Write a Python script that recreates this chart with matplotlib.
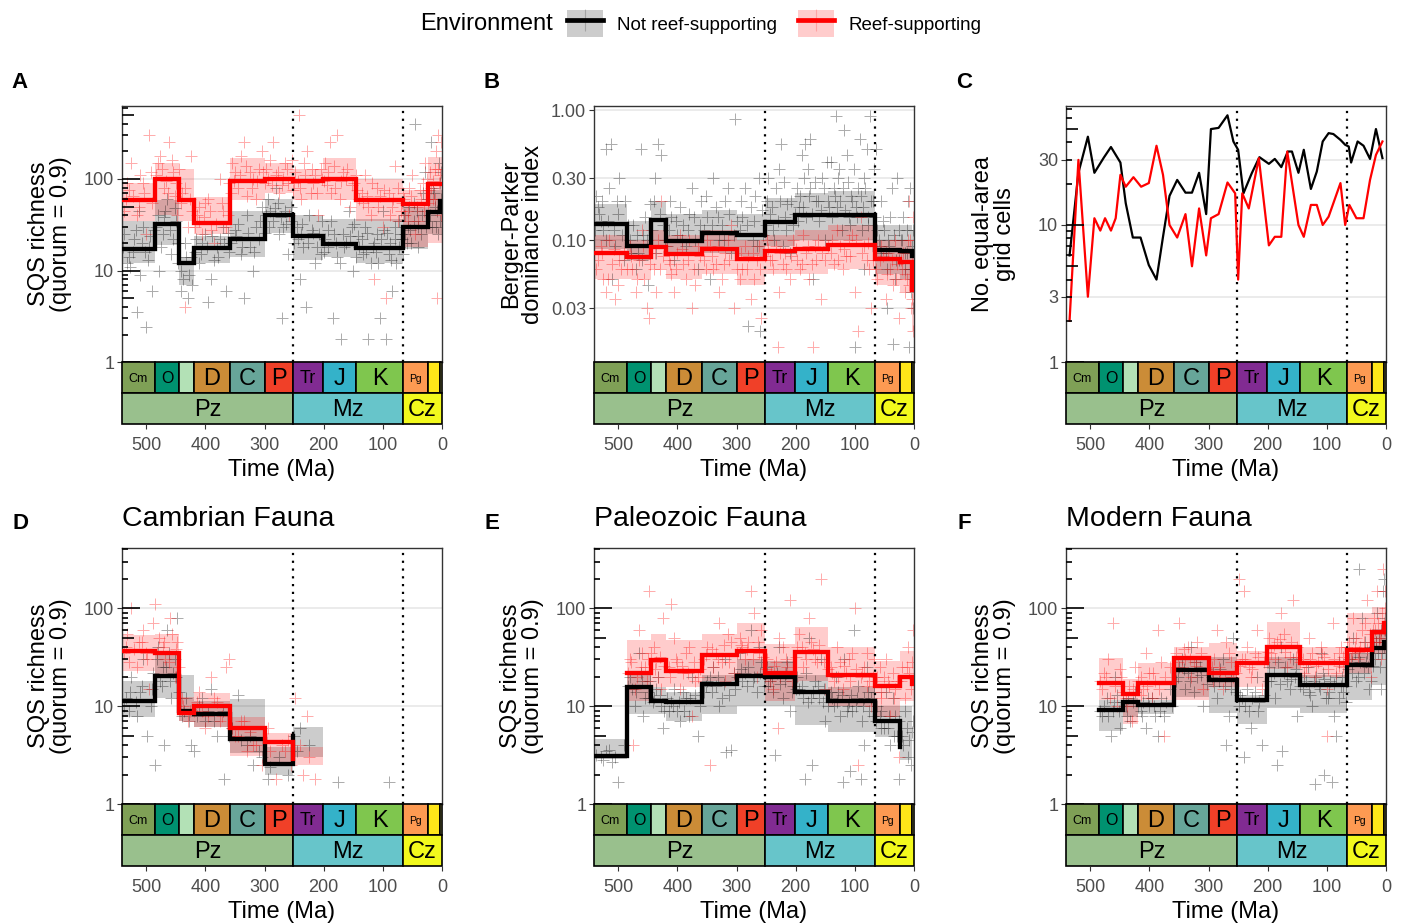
import numpy as np
import matplotlib.pyplot as plt
from matplotlib.patches import Patch, Rectangle
from matplotlib.lines import Line2D
from matplotlib.legend_handler import HandlerTuple
from matplotlib.ticker import FixedLocator, FixedFormatter, NullLocator

plt.rcParams["font.family"] = ["Liberation Sans", "DejaVu Sans"]

nan = np.nan

# Geological time scale (Ma)
period_labels = ["Cm", "O", "", "D", "C", "P", "Tr", "J", "K", "Pg", "", ""]
period_base = [541.0, 485.4, 443.8, 419.2, 358.9, 298.9, 251.902, 201.3, 145.0, 66.0, 23.03, 2.58]
period_top = [485.4, 443.8, 419.2, 358.9, 298.9, 251.902, 201.3, 145.0, 66.0, 23.03, 2.58, 0.0]
period_colors = ["#7FA056", "#009270", "#B3E1B6", "#CB8C37", "#67A599", "#F04028",
                 "#812B92", "#34B2C9", "#7FC64E", "#FD9A52", "#FFE619", "#F9F97F"]
period_fontsize = [9, 11.5, 0, 17, 17, 17, 13, 17, 17, 7.5, 0, 0]

era_labels = ["Pz", "Mz", "Cz"]
era_base = [541.0, 251.902, 66.0]
era_top = [251.902, 66.0, 0.0]
era_colors = ["#99C08D", "#67C5CA", "#F2F91D"]

mass_extinctions = [251.902, 66.0]

# ---------------- A: SQS richness, all taxa (one value per period bin)
A_black = [17, 32, 12, 17.7, 22, 40, 24, 19.5, 17.7, 30, 44, 58]
A_black_lo = [12, 19, 7, 12, 14, 26, 13, 14, 12, 17, 25, 25]
A_black_hi = [35, 59, 14, 24, 45, 60, 40, 37, 37, 50, 75, 75]
A_red = [59, 100, 59, 33, 96, 100, 94, 100, 59, 53, 88, 88]
A_red_lo = [35, 40, 35, 25, 59, 70, 59, 59, 35, 18, 20, 20]
A_red_hi = [90, 150, 130, 64, 170, 150, 130, 170, 100, 75, 175, 175]

A_black_pts = [(530, 14), (520, 22), (510, 9), (505, 30), (495, 18), (490, 6), (515, 3.5), (500, 2.4),
               (480, 40), (472, 25), (465, 60), (458, 15), (450, 35), (478, 10), (438, 8), (430, 5),
               (425, 14), (435, 20), (410, 12), (400, 25), (390, 8), (380, 18), (370, 30), (395, 4.5),
               (365, 6), (350, 28), (340, 15), (330, 40), (320, 10), (310, 22), (305, 50), (335, 5),
               (295, 60), (285, 35), (275, 25), (265, 45), (260, 15), (280, 80), (270, 3), (245, 30),
               (235, 18), (225, 40), (215, 12), (208, 25), (230, 4), (240, 8), (198, 22), (188, 35),
               (178, 14), (168, 25), (158, 45), (150, 10), (185, 3), (170, 1.8), (140, 18), (130, 30),
               (120, 12), (110, 25), (100, 45), (90, 15), (80, 22), (72, 35), (125, 1.8), (105, 3),
               (95, 1.8), (85, 6), (62, 25), (55, 50), (48, 35), (40, 18), (32, 70), (28, 120),
               (45, 400), (20, 40), (15, 80), (10, 30), (5, 150), (2, 60), (18, 250),
               (537, 25), (527, 11), (512, 45), (502, 16), (487, 28), (475, 18), (468, 45), (455, 22),
               (446, 12), (441, 6), (428, 9), (418, 16), (405, 20), (385, 13), (375, 22), (360, 16),
               (345, 32), (325, 18), (315, 30), (300, 26), (290, 45), (278, 55), (268, 30), (255, 35),
               (250, 20), (238, 25), (220, 28), (205, 15), (193, 18), (182, 25), (172, 12), (162, 20),
               (153, 30), (145, 14), (135, 22), (128, 16), (115, 20), (108, 12), (98, 28), (88, 20),
               (78, 12), (70, 25), (66, 15), (58, 30), (52, 20), (42, 45), (36, 25), (25, 60),
               (22, 35), (12, 50), (7, 25), (3, 90),
               (539, 18), (533, 12), (523, 16), (518, 28), (508, 20), (497, 13), (493, 24), (483, 30),
               (470, 38), (460, 28), (452, 48), (447, 20), (442, 10), (433, 14), (423, 7), (416, 22),
               (408, 15), (398, 18), (388, 24), (378, 14), (368, 20), (362, 26), (356, 20), (348, 24),
               (338, 18), (328, 26), (318, 16), (308, 35), (298, 40), (292, 30), (283, 48), (273, 38),
               (263, 32), (256, 50), (243, 22), (236, 32), (226, 20), (218, 26), (211, 18), (203, 35),
               (199, 16), (192, 28), (180, 20), (165, 18), (155, 24), (148, 32), (142, 24), (133, 15),
               (126, 26), (117, 18), (111, 16), (103, 22), (93, 26), (86, 13), (79, 30), (73, 18),
               (67, 22), (64, 40), (60, 20), (54, 28), (47, 55), (41, 30), (34, 40), (27, 30),
               (17, 30), (13, 70), (9, 45), (4, 35), (1, 120)]
A_red_pts = [(535, 60), (525, 150), (515, 40), (505, 90), (495, 300), (500, 25), (480, 150), (470, 80),
             (462, 250), (455, 120), (448, 40), (440, 70), (430, 30), (425, 180), (435, 4), (415, 40),
             (405, 25), (395, 60), (385, 20), (375, 100), (365, 30), (355, 150), (345, 80), (335, 250),
             (325, 120), (315, 60), (305, 200), (295, 100), (285, 250), (275, 70), (265, 150), (258, 40),
             (248, 120), (238, 60), (228, 200), (218, 90), (210, 40), (242, 500), (198, 150), (188, 70),
             (178, 300), (168, 120), (155, 50), (190, 250), (140, 60), (130, 110), (120, 40), (110, 80),
             (100, 30), (90, 70), (80, 140), (70, 45), (115, 8), (95, 5), (62, 40), (55, 80),
             (45, 25), (35, 60), (28, 150), (20, 120), (15, 60), (10, 200), (5, 90), (2, 40), (8, 5),
             (530, 75), (510, 110), (490, 55), (476, 180), (466, 95), (452, 65), (444, 130), (422, 45),
             (410, 35), (400, 55), (390, 28), (370, 45), (360, 90), (350, 120), (340, 180), (330, 65),
             (320, 100), (310, 130), (300, 90), (290, 160), (280, 110), (270, 85), (262, 130), (252, 75),
             (244, 95), (234, 150), (222, 70), (214, 110), (204, 130), (194, 85), (183, 140), (173, 60),
             (163, 100), (148, 90), (136, 70), (125, 50), (105, 65), (85, 50), (75, 35), (66, 70),
             (58, 45), (50, 110), (40, 35), (32, 90), (24, 55), (18, 80), (12, 130), (6, 300), (3, 110),
             (538, 45), (532, 90), (522, 65), (512, 50), (503, 70), (492, 120), (484, 110), (474, 130),
             (464, 70), (457, 160), (450, 90), (442, 55), (434, 80), (426, 60), (417, 30), (411, 50),
             (402, 38), (392, 45), (382, 32), (372, 55), (362, 40), (357, 70), (352, 95), (342, 110),
             (332, 140), (322, 80), (312, 95), (302, 120), (297, 130), (288, 85), (278, 120), (268, 100),
             (260, 90), (254, 160), (250, 90), (240, 80), (231, 110), (220, 130), (212, 70), (203, 100),
             (199, 95), (192, 120), (181, 80), (171, 95), (160, 130), (152, 85), (146, 110), (143, 75),
             (134, 55), (127, 65), (118, 90), (108, 50), (98, 75), (88, 40), (82, 60), (74, 80),
             (68, 55), (64, 60), (57, 35), (52, 65), (42, 50), (37, 75), (30, 45), (26, 100),
             (22, 75), (16, 95), (11, 60), (7, 130), (1, 250)]

# ---------------- B: Berger-Parker dominance
B_black = [0.134, 0.090, 0.143, 0.099, 0.114, 0.109, 0.137, 0.155, 0.155, 0.084, 0.082, 0.076]
B_black_lo = [0.085, 0.07, 0.09, 0.075, 0.08, 0.075, 0.09, 0.1, 0.1, 0.055, 0.05, 0.04]
B_black_hi = [0.19, 0.14, 0.2, 0.16, 0.17, 0.16, 0.21, 0.23, 0.24, 0.13, 0.13, 0.12]
B_red = [0.079, 0.074, 0.089, 0.078, 0.086, 0.072, 0.083, 0.086, 0.092, 0.071, 0.068, 0.041]
B_red_lo = [0.05, 0.05, 0.06, 0.05, 0.055, 0.045, 0.055, 0.055, 0.06, 0.045, 0.04, 0.02]
B_red_hi = [0.11, 0.10, 0.12, 0.11, 0.12, 0.10, 0.11, 0.12, 0.13, 0.10, 0.10, 0.08]

B_black_pts = [(535, 0.18), (525, 0.12), (515, 0.25), (505, 0.09), (498, 0.3), (490, 0.07), (510, 0.05),
               (530, 0.14), (520, 0.1), (500, 0.16), (538, 0.22), (512, 0.55), (520, 0.5), (488, 0.2),
               (480, 0.1), (470, 0.06), (462, 0.5), (455, 0.15), (450, 0.045), (475, 0.13), (466, 0.08),
               (458, 0.11), (446, 0.19), (440, 0.2), (432, 0.55), (428, 0.45), (436, 0.08), (424, 0.13),
               (421, 0.1), (415, 0.12), (405, 0.07), (395, 0.18), (385, 0.09), (375, 0.25), (365, 0.06),
               (410, 0.15), (400, 0.11), (390, 0.13), (380, 0.16), (370, 0.1), (360, 0.2), (350, 0.15),
               (340, 0.3), (330, 0.1), (320, 0.2), (310, 0.08), (302, 0.85), (345, 0.05), (355, 0.12),
               (335, 0.18), (325, 0.13), (315, 0.25), (305, 0.11), (295, 0.12), (285, 0.25), (275, 0.18),
               (265, 0.09), (280, 0.022), (260, 0.02), (290, 0.15), (270, 0.14), (255, 0.11), (262, 0.3),
               (248, 0.2), (238, 0.12), (228, 0.35), (218, 0.15), (210, 0.08), (225, 0.55), (244, 0.16),
               (233, 0.25), (214, 0.19), (205, 0.13), (222, 0.09), (198, 0.25), (190, 0.45), (182, 0.15),
               (175, 0.6), (165, 0.2), (155, 0.3), (150, 0.1), (170, 0.05), (194, 0.18), (186, 0.3),
               (178, 0.22), (160, 0.14), (147, 0.4), (185, 0.55), (140, 0.4), (132, 0.9), (125, 0.2),
               (118, 0.7), (110, 0.15), (102, 0.35), (95, 0.25), (88, 0.12), (80, 0.5), (74, 0.9),
               (70, 0.2), (85, 0.06), (100, 0.015), (136, 0.25), (128, 0.3), (122, 0.12), (114, 0.45),
               (106, 0.22), (98, 0.18), (92, 0.6), (84, 0.3), (77, 0.15), (68, 0.35), (143, 0.18),
               (62, 0.12), (55, 0.2), (48, 0.08), (40, 0.15), (32, 0.05), (28, 0.3), (45, 0.03),
               (35, 0.016), (64, 0.5), (58, 0.09), (52, 0.14), (44, 0.1), (38, 0.25), (30, 0.07),
               (25, 0.12), (20, 0.1), (15, 0.06), (10, 0.2), (5, 0.04), (2, 0.12), (8, 0.015),
               (18, 0.15), (12, 0.08), (6, 0.25), (3, 0.05),
               (540, 0.12), (532, 0.16), (527, 0.2), (517, 0.14), (507, 0.12), (502, 0.2), (493, 0.11),
               (484, 0.13), (478, 0.08), (468, 0.11), (460, 0.07), (452, 0.1), (443, 0.12), (438, 0.3),
               (430, 0.16), (418, 0.09), (412, 0.2), (402, 0.14), (392, 0.1), (382, 0.12), (372, 0.15),
               (362, 0.13), (352, 0.22), (342, 0.13), (332, 0.15), (322, 0.1), (312, 0.16), (300, 0.14),
               (293, 0.2), (283, 0.13), (273, 0.1), (268, 0.22), (257, 0.17), (250, 0.13), (246, 0.3),
               (240, 0.18), (236, 0.1), (230, 0.14), (226, 0.2), (220, 0.28), (216, 0.12), (208, 0.2),
               (202, 0.16), (196, 0.14), (192, 0.22), (188, 0.18), (180, 0.35), (176, 0.25), (172, 0.16),
               (168, 0.28), (162, 0.2), (158, 0.17), (152, 0.25), (145, 0.2), (138, 0.15), (134, 0.22),
               (130, 0.18), (126, 0.35), (120, 0.25), (116, 0.17), (112, 0.28), (108, 0.13), (104, 0.2),
               (96, 0.15), (90, 0.22), (86, 0.18), (82, 0.25), (78, 0.13), (72, 0.2), (66, 0.15),
               (60, 0.1), (56, 0.08), (50, 0.12), (46, 0.06), (42, 0.09), (34, 0.11), (26, 0.07),
               (22, 0.1), (16, 0.08), (11, 0.12), (7, 0.06), (4, 0.09), (1, 0.03)]
B_red_pts = [(535, 0.07), (525, 0.05), (515, 0.1), (505, 0.035), (495, 0.06), (530, 0.09), (510, 0.065),
             (500, 0.045), (520, 0.04), (490, 0.08), (480, 0.09), (470, 0.04), (460, 0.12), (452, 0.03),
             (448, 0.025), (476, 0.06), (465, 0.07), (456, 0.05), (440, 0.06), (432, 0.1), (428, 0.2),
             (436, 0.04), (424, 0.075), (415, 0.07), (405, 0.04), (395, 0.11), (385, 0.05), (375, 0.03),
             (365, 0.09), (410, 0.055), (400, 0.08), (390, 0.065), (380, 0.1), (370, 0.045), (350, 0.1),
             (340, 0.06), (330, 0.04), (320, 0.08), (310, 0.13), (305, 0.03), (355, 0.07), (345, 0.09),
             (335, 0.065), (325, 0.05), (315, 0.1), (295, 0.05), (285, 0.09), (275, 0.035), (265, 0.07),
             (258, 0.025), (290, 0.06), (280, 0.075), (270, 0.05), (262, 0.09), (248, 0.1), (238, 0.06),
             (228, 0.04), (218, 0.08), (210, 0.05), (230, 0.015), (244, 0.07), (233, 0.09), (222, 0.065),
             (205, 0.1), (198, 0.07), (188, 0.11), (178, 0.05), (168, 0.09), (158, 0.035), (170, 0.015),
             (193, 0.06), (183, 0.08), (173, 0.065), (163, 0.1), (150, 0.07), (140, 0.08), (130, 0.12),
             (120, 0.06), (110, 0.1), (100, 0.04), (90, 0.15), (80, 0.07), (72, 0.03), (95, 0.02),
             (135, 0.065), (125, 0.09), (115, 0.075), (105, 0.11), (85, 0.09), (76, 0.06), (62, 0.05),
             (55, 0.09), (48, 0.035), (40, 0.06), (32, 0.1), (25, 0.025), (58, 0.07), (44, 0.08),
             (36, 0.045), (28, 0.065), (20, 0.06), (15, 0.04), (10, 0.1), (5, 0.03), (2, 0.15),
             (8, 0.2), (18, 0.08), (12, 0.05), (4, 0.07), (1, 0.02),
             (538, 0.06), (527, 0.08), (518, 0.05), (508, 0.085), (498, 0.07), (486, 0.06), (478, 0.075),
             (468, 0.05), (458, 0.09), (446, 0.065), (438, 0.08), (430, 0.06), (420, 0.09), (412, 0.065),
             (402, 0.06), (392, 0.085), (382, 0.07), (372, 0.06), (362, 0.075), (352, 0.06), (342, 0.075),
             (332, 0.09), (322, 0.065), (312, 0.07), (300, 0.06), (292, 0.08), (283, 0.06), (272, 0.08),
             (260, 0.06), (252, 0.075), (246, 0.085), (240, 0.07), (226, 0.08), (216, 0.06), (208, 0.075),
             (200, 0.085), (190, 0.065), (180, 0.09), (166, 0.07), (155, 0.08), (146, 0.09), (138, 0.1),
             (128, 0.07), (118, 0.085), (108, 0.075), (98, 0.1), (88, 0.08), (78, 0.095), (70, 0.07),
             (64, 0.06), (52, 0.075), (46, 0.055), (38, 0.07), (30, 0.05), (22, 0.07), (16, 0.055),
             (9, 0.045), (3, 0.035), (6, 0.1)]

# ---------------- C: number of equal-area grid cells
C_black_t = [535, 520, 504, 493, 477, 465, 449, 440, 428, 415, 401, 388, 377, 366, 353, 339,
             328, 316, 304, 296, 283, 268, 258, 250, 241, 227, 214, 198, 188, 177, 166, 159,
             148, 139, 127, 117, 107, 97, 89, 77, 69, 63, 59, 48, 38, 27, 17, 6]
C_black_v = [6.0, 24, 44, 24, 31, 37, 28.5, 14.4, 8.1, 8.1, 5.1, 4.0, 8.2, 16.3, 21.3, 17.2,
             17.2, 24, 12, 50, 51, 63, 40.6, 35.3, 17, 23.8, 31.2, 27.9, 30.3, 26.4, 34.3, 34.3,
             24, 35.3, 18.3, 24.5, 40.6, 46.7, 46, 41.7, 38.4, 37.3, 28.5, 40.6, 37.8, 30.3, 50, 30.7]
C_red_t = [535, 520, 504, 493, 483, 475, 465, 457, 449, 440, 427, 414, 401, 388, 377, 366,
           353, 339, 328, 316, 304, 296, 283, 268, 255, 250, 243, 232, 215, 198, 188, 177,
           167, 148, 139, 127, 117, 107, 97, 77, 69, 62, 50, 38, 27, 17, 6]
C_red_v = [2.0, 29.8, 3.0, 11.2, 9.1, 11.2, 9.1, 11.2, 23.2, 19, 22.3, 19, 20.2, 37.8, 23.2, 10,
           8.1, 12, 5.0, 13.2, 6.0, 11.2, 12, 20.4, 17, 4.0, 17, 13.2, 30.7, 7.1, 8.2, 8.2,
           34.3, 10, 8.2, 14, 14, 10, 11.5, 20.2, 10, 14, 11.2, 11.2, 21.3, 32.4, 40.6]

# ---------------- D: Cambrian fauna
D_black = [11.4, 20.2, 9.0, 8.4, 4.6, 2.55, 5.0, nan, nan, nan, nan, nan]
D_black_lo = [7.7, 12, 7, 6.2, 3.3, 2.0, 3.0, nan, nan, nan, nan, nan]
D_black_hi = [18, 35, 21, 11.4, 11.9, 3.8, 6.1, nan, nan, nan, nan, nan]
D_red = [36.5, 34.8, 8.6, 10.1, 6.0, 4.3, 2.9, nan, nan, nan, nan, nan]
D_red_lo = [23, 20, 7, 6.2, 3.1, 2.6, 2.5, nan, nan, nan, nan, nan]
D_red_hi = [53, 55, 12.3, 13.6, 7.7, 5.3, 3.8, nan, nan, nan, nan, nan]

D_black_pts = [(535, 12), (525, 20), (515, 8), (505, 30), (498, 5), (490, 15), (485, 2.5), (480, 40),
               (472, 25), (465, 60), (458, 12), (452, 30), (448, 80), (470, 4), (440, 8), (432, 12),
               (425, 4), (420, 3.5), (410, 10), (400, 7), (390, 15), (380, 5), (370, 9), (355, 6),
               (345, 13), (330, 4), (320, 2.5), (310, 3.5), (295, 1.8), (275, 3), (260, 2), (250, 5),
               (245, 3.5), (240, 6), (225, 4), (175, 1.7), (90, 1.7), (368, 1.8), (530, 9), (510, 14),
               (492, 10), (476, 18), (462, 35), (455, 22), (444, 14), (405, 12),
               (538, 10), (528, 14), (518, 11), (508, 16), (488, 22), (482, 30), (474, 16), (466, 25),
               (460, 18), (450, 20), (436, 9), (428, 7), (415, 8), (395, 9), (385, 7), (360, 5),
               (340, 4.5), (325, 5), (305, 3), (290, 2.4)]
D_red_pts = [(535, 40), (525, 100), (515, 25), (505, 60), (495, 15), (485, 110), (478, 50), (468, 30),
             (460, 80), (452, 20), (448, 45), (440, 12), (430, 7), (420, 9), (410, 14), (400, 6),
             (390, 20), (380, 11), (372, 8), (365, 25), (360, 30), (350, 5), (340, 7), (330, 3.5),
             (320, 4), (305, 2.5), (295, 6), (280, 1.8), (265, 3.5), (255, 2.5), (248, 12), (240, 4),
             (235, 2), (225, 3), (215, 1.8), (228, 8), (530, 28), (512, 45), (500, 35), (488, 70),
             (472, 40), (456, 55), (445, 25),
             (538, 35), (532, 55), (520, 38), (508, 45), (498, 30), (482, 35), (470, 45), (462, 28),
             (450, 38), (438, 10), (426, 9), (415, 11), (405, 9), (395, 8), (385, 12), (375, 7),
             (355, 6), (345, 5), (335, 7), (325, 5.5), (315, 4), (300, 4.5), (290, 3.5), (270, 4),
             (260, 4.5)]

# ---------------- E: Paleozoic fauna
E_black = [3.1, 15.6, 11.4, 11.0, 16.9, 20.2, 19.8, 13.9, 11.2, 7.1, 3.8, nan]
E_black_lo = [2.9, 8.3, 8.3, 7.1, 8.3, 10, 10, 6.5, 5.4, 4.9, 2.8, nan]
E_black_hi = [4.6, 21.4, 15.6, 14, 21, 30, 29, 21, 15.6, 10, 10, nan]
E_red = [nan, 21.7, 29.8, 23.1, 33.0, 36.5, 21.9, 35.6, 21.0, 16.0, 20.1, 17]
E_red_lo = [nan, 11.4, 15.6, 15.6, 18, 21.4, 11.4, 18, 10, 7.7, 11.4, 11.4]
E_red_hi = [nan, 47, 54, 47, 54, 70, 43, 65, 40, 29, 37, 37]

E_black_pts = [(530, 3), (510, 2.7), (500, 1.7), (490, 4), (520, 3.5), (480, 20), (472, 10), (465, 35),
               (458, 8), (450, 14), (476, 15), (462, 22), (454, 12), (446, 18), (440, 12), (432, 20),
               (425, 6), (436, 15), (428, 10), (415, 9), (405, 15), (395, 7), (385, 12), (375, 20),
               (365, 5), (410, 11), (400, 9), (390, 14), (380, 8), (370, 13), (350, 18), (340, 25),
               (330, 10), (320, 30), (310, 3.6), (302, 15), (318, 3.4), (355, 14), (345, 20), (335, 16),
               (325, 12), (305, 22), (295, 35), (285, 22), (275, 60), (265, 14), (258, 28), (290, 18),
               (280, 25), (270, 20), (262, 40), (254, 16), (248, 25), (238, 14), (228, 40), (218, 18),
               (210, 9), (235, 3.2), (244, 18), (232, 22), (222, 12), (214, 28), (205, 16), (198, 20),
               (188, 12), (178, 50), (168, 18), (158, 30), (150, 7), (185, 1.8), (172, 2.5), (194, 15),
               (182, 22), (174, 12), (162, 16), (154, 11), (140, 14), (132, 20), (125, 8), (118, 30),
               (110, 11), (102, 60), (95, 16), (88, 7), (80, 25), (72, 12), (120, 1.7), (108, 2.2),
               (90, 1.8), (85, 4), (136, 10), (128, 14), (114, 9), (106, 13), (98, 10), (84, 12),
               (76, 9), (68, 14), (62, 10), (55, 6), (48, 14), (40, 4), (32, 8), (25, 1.8), (36, 12),
               (58, 8), (44, 6), (28, 5), (20, 5), (15, 9), (10, 3), (5, 2.5), (2, 7), (12, 6),
               (537, 3.2), (525, 2.8), (515, 3.6), (505, 3), (484, 16), (470, 14), (460, 18), (448, 12),
               (442, 11), (430, 13), (422, 9), (418, 12), (408, 10), (398, 11), (388, 9), (378, 12),
               (362, 10), (352, 16), (342, 14), (332, 20), (322, 17), (312, 13), (300, 20), (292, 24),
               (282, 16), (272, 18), (260, 22), (252, 20), (246, 16), (240, 20), (226, 17), (216, 22),
               (206, 14), (200, 15), (190, 16), (180, 11), (170, 14), (160, 12), (152, 15), (146, 10),
               (138, 12), (130, 11), (122, 13), (112, 10), (104, 9), (96, 12), (86, 10), (78, 14),
               (70, 8), (64, 7), (56, 9), (50, 6), (42, 8), (34, 5), (26, 7), (18, 4), (8, 4.5), (3, 5.5)]
E_red_pts = [(480, 30), (472, 15), (465, 60), (455, 25), (448, 150), (475, 4), (468, 20), (460, 35),
             (452, 18), (440, 40), (432, 20), (425, 80), (436, 28), (428, 15), (415, 25), (405, 50),
             (395, 15), (385, 35), (375, 8), (365, 20), (410, 110), (400, 28), (390, 22), (380, 40),
             (370, 18), (350, 40), (340, 25), (330, 70), (320, 18), (310, 45), (345, 2.5), (355, 30),
             (335, 35), (325, 28), (315, 55), (305, 22), (295, 50), (285, 30), (275, 150), (265, 20),
             (258, 60), (270, 90), (290, 40), (280, 45), (262, 35), (248, 30), (238, 15), (228, 50),
             (218, 22), (210, 120), (230, 6), (244, 18), (234, 28), (222, 40), (214, 25), (198, 40),
             (188, 25), (178, 80), (168, 30), (158, 200), (150, 15), (194, 55), (184, 35), (174, 45),
             (164, 28), (140, 25), (130, 40), (120, 15), (110, 30), (100, 100), (90, 20), (80, 35),
             (72, 10), (95, 2.5), (135, 18), (125, 28), (115, 22), (105, 35), (85, 25), (76, 18),
             (68, 30), (62, 20), (55, 12), (48, 30), (40, 8), (32, 15), (25, 3), (58, 25), (44, 18),
             (36, 22), (20, 25), (15, 12), (10, 40), (5, 15), (2, 60), (8, 22),
             (484, 22), (478, 28), (462, 25), (450, 30), (444, 35), (438, 24), (430, 32), (422, 26),
             (412, 20), (402, 30), (392, 26), (382, 22), (372, 28), (362, 24), (352, 33), (342, 38),
             (332, 30), (322, 42), (312, 28), (300, 35), (292, 42), (282, 38), (272, 30), (264, 45),
             (255, 32), (250, 24), (242, 22), (236, 26), (226, 20), (216, 30), (206, 18), (200, 32),
             (190, 40), (182, 30), (170, 38), (160, 42), (152, 28), (146, 24), (138, 22), (128, 20),
             (118, 26), (108, 18), (98, 24), (88, 22), (80, 16), (70, 20), (64, 18), (56, 14),
             (50, 20), (42, 16), (34, 12), (28, 18), (22, 18), (12, 25), (4, 28)]

# ---------------- F: Modern fauna
F_black = [nan, 9.1, 11.0, 10.2, 23.3, 18.7, 11.7, 20.7, 16.3, 26.2, 38.9, 45.4]
F_black_lo = [nan, 5.6, 7.8, 8.3, 12.3, 8.6, 6.6, 9.7, 8.6, 11.5, 16.3, 16.3]
F_black_hi = [nan, 11.5, 12, 11.5, 32, 32, 13, 32, 21, 34, 61, 61]
F_red = [nan, 17.4, 13.2, 17.4, 31.4, 21.9, 27.9, 40.4, 27.9, 37.4, 57.5, 70]
F_red_lo = [nan, 11.5, 6.6, 11.5, 11.5, 15.7, 15.7, 24, 20, 22, 34.5, 34.5]
F_red_hi = [nan, 30.7, 19.1, 27.3, 40, 43.8, 37, 73, 40, 89, 104, 104]

F_black_pts = [(480, 8), (472, 12), (465, 5), (458, 20), (450, 6), (476, 10), (462, 9), (454, 13),
               (440, 10), (432, 7), (425, 14), (436, 12), (415, 9), (405, 6), (395, 12), (385, 5),
               (375, 8), (365, 15), (410, 11), (400, 10), (390, 8), (380, 12), (350, 25), (340, 15),
               (330, 40), (320, 20), (310, 10), (355, 18), (345, 30), (335, 22), (325, 14), (315, 25),
               (295, 20), (285, 12), (275, 30), (265, 8), (258, 50), (270, 4), (290, 16), (280, 24),
               (262, 15), (248, 10), (240, 3), (235, 15), (228, 6), (218, 20), (210, 4), (244, 12),
               (232, 9), (222, 14), (214, 11), (198, 25), (188, 12), (178, 40), (168, 18), (158, 30),
               (150, 8), (185, 2.5), (175, 3.5), (194, 18), (182, 28), (172, 22), (162, 15), (154, 20),
               (140, 15), (132, 25), (125, 10), (118, 20), (110, 35), (102, 12), (95, 18), (88, 8),
               (80, 28), (72, 14), (120, 1.6), (105, 2), (92, 1.7), (85, 5), (136, 18), (128, 13),
               (114, 16), (106, 22), (98, 12), (84, 20), (76, 16), (68, 11), (62, 30), (55, 50),
               (48, 20), (40, 80), (32, 35), (28, 15), (45, 250), (58, 22), (52, 35), (44, 28),
               (36, 45), (30, 25), (25, 18), (20, 40), (15, 90), (10, 25), (5, 150), (2, 60), (8, 15),
               (3, 200), (18, 30), (12, 50), (6, 35), (1, 80),
               (484, 9), (470, 8), (460, 11), (452, 9), (444, 11), (438, 8), (428, 11), (420, 10),
               (412, 8), (402, 12), (392, 10), (382, 9), (372, 11), (362, 10), (352, 20), (342, 24),
               (332, 18), (322, 28), (312, 21), (302, 17), (292, 22), (282, 18), (272, 16), (262, 20),
               (254, 14), (246, 13), (238, 10), (226, 12), (216, 9), (206, 13), (200, 18), (190, 22),
               (180, 17), (170, 25), (160, 19), (152, 24), (146, 16), (138, 20), (130, 14), (122, 18),
               (112, 15), (104, 19), (96, 14), (88, 17), (80, 12), (74, 20), (68, 16), (64, 24),
               (57, 28), (50, 18), (46, 32), (38, 22), (34, 28), (27, 40), (22, 26), (17, 45),
               (13, 35), (9, 60), (4, 40)]
F_red_pts = [(480, 15), (470, 30), (462, 70), (455, 10), (448, 20), (476, 22), (466, 12), (440, 12),
             (430, 7), (425, 25), (435, 16), (415, 20), (405, 35), (395, 12), (385, 60), (375, 5),
             (365, 25), (410, 15), (400, 22), (390, 18), (380, 28), (350, 70), (340, 30), (330, 20),
             (320, 45), (310, 15), (355, 35), (345, 25), (335, 40), (325, 28), (295, 25), (285, 60),
             (275, 15), (265, 35), (258, 20), (290, 30), (280, 22), (270, 45), (248, 200), (240, 150),
             (235, 40), (228, 20), (218, 60), (210, 15), (244, 30), (232, 25), (222, 35), (198, 50),
             (188, 30), (178, 90), (168, 25), (158, 120), (150, 40), (194, 35), (184, 45), (172, 55),
             (162, 32), (140, 30), (130, 50), (120, 20), (110, 40), (100, 15), (90, 70), (80, 35),
             (72, 25), (100, 5), (135, 25), (125, 35), (115, 28), (105, 32), (85, 22), (76, 40),
             (62, 45), (55, 80), (48, 30), (40, 60), (32, 120), (25, 20), (58, 35), (50, 50),
             (44, 40), (36, 70), (20, 80), (15, 150), (10, 50), (5, 250), (2, 100), (8, 30),
             (18, 60), (12, 45), (4, 70),
             (484, 18), (474, 20), (458, 16), (450, 24), (444, 14), (438, 10), (428, 15), (420, 18),
             (414, 13), (404, 16), (394, 22), (384, 15), (374, 20), (362, 18), (352, 28), (342, 38),
             (332, 30), (322, 26), (312, 35), (302, 24), (292, 18), (282, 25), (272, 20), (262, 28),
             (254, 22), (246, 26), (238, 30), (226, 24), (216, 32), (206, 28), (200, 36), (190, 42),
             (180, 48), (170, 36), (160, 45), (152, 32), (146, 28), (138, 22), (128, 30), (118, 26),
             (108, 34), (98, 24), (88, 30), (80, 26), (72, 32), (66, 40), (60, 30), (52, 40),
             (46, 36), (38, 45), (32, 38), (27, 55), (22, 60), (17, 45), (13, 70), (9, 55),
             (6, 90), (3, 60), (1, 150)]


# ---------------- layout helpers (pixel based)
W, H = 1405, 923
fig = plt.figure(figsize=(W / 100, H / 100), dpi=100)

col_left = [122, 594, 1066]
row_top = [105.7, 547.7]
PW, PH, TSH = 320, 256.5, 62
TICK_GREY = "#4D4D4D"


def px_axes(left, top, width, height):
    return fig.add_axes([left / W, 1 - (top + height) / H, width / W, height / H])


def log_ticks(ax, ylim):
    # annotation_logticks style marks on the left edge
    tr = ax.get_yaxis_transform()
    for d in range(int(np.floor(np.log10(ylim[0]))), int(np.ceil(np.log10(ylim[1]))) + 1):
        for m in range(1, 10):
            v = m * 10.0 ** d
            if ylim[0] <= v <= ylim[1]:
                n = 18 if m == 1 else (12 if m == 5 else 6)
                ax.plot([0, n / PW], [v, v], transform=tr, color="black", lw=1.2,
                        solid_capstyle="butt", clip_on=False, zorder=6)


def main_axes(row, col, ylim, ticks, labels, logt=True):
    ax = px_axes(col_left[col], row_top[row], PW, PH)
    ax.set_xlim(541, 0)
    ax.set_yscale("log")
    ax.set_ylim(*ylim)
    ax.yaxis.set_major_locator(FixedLocator(ticks))
    ax.yaxis.set_major_formatter(FixedFormatter(labels))
    ax.yaxis.set_minor_locator(NullLocator())
    ax.set_xticks([])
    ax.tick_params(axis="y", which="major", direction="out", length=3.6, width=0.8,
                   color="#333333", pad=2, labelsize=13, labelcolor=TICK_GREY)
    ax.grid(axis="y", color="#E5E5E5", lw=1.1)
    ax.set_axisbelow(True)
    for s in ax.spines.values():
        s.set_color("#333333")
        s.set_linewidth(1.0)
    if logt:
        log_ticks(ax, ylim)
    for t in mass_extinctions:
        ax.axvline(t, color="black", lw=1.6, ls=(0, (1, 2.5)), dash_capstyle="butt", zorder=3)
    return ax


def timescale(row, col):
    ts = px_axes(col_left[col], row_top[row] + PH, PW, TSH)
    ts.set_xlim(541, 0)
    ts.set_ylim(0, 2)
    for b, t, c, lab, fs in zip(period_base, period_top, period_colors, period_labels, period_fontsize):
        ts.add_patch(Rectangle((t, 1), b - t, 1, facecolor=c, edgecolor="black", lw=1.2, clip_on=False))
        if lab:
            ts.text((b + t) / 2, 1.47, lab, ha="center", va="center", fontsize=fs)
    for b, t, c, lab in zip(era_base, era_top, era_colors, era_labels):
        ts.add_patch(Rectangle((t, 0), b - t, 1, facecolor=c, edgecolor="black", lw=1.2, clip_on=False))
        ts.text((b + t) / 2, 0.47, lab, ha="center", va="center", fontsize=17)
    ts.set_yticks([])
    for s in ts.spines.values():
        s.set_visible(False)
    ts.set_xticks([500, 400, 300, 200, 100, 0])
    ts.tick_params(axis="x", direction="out", length=3.6, width=0.8, color="#333333",
                   pad=5.5, labelsize=13, labelcolor=TICK_GREY)
    ts.set_xlabel("Time (Ma)", fontsize=17, labelpad=4)
    return ts


def step_line(ax, vals, color):
    v = np.array(vals, dtype=float)
    last = np.where(~np.isnan(v))[0][-1]
    ax.step(period_base[:last + 1], v[:last + 1], where="post", color=color, lw=3.1,
            solid_joinstyle="miter", zorder=4)


def ribbon(ax, lo, hi, color):
    lo, hi = np.array(lo, dtype=float), np.array(hi, dtype=float)
    ok = ~np.isnan(lo)
    base, top = np.array(period_base), np.array(period_top)
    ax.bar(top[ok], (hi - lo)[ok], bottom=lo[ok], width=(base - top)[ok], align="edge",
           color=color, alpha=0.2, lw=0, zorder=1)


def crosses(ax, pts, color, alpha):
    t, v = np.array(pts, dtype=float).T
    ax.plot(t, v, ls="none", marker="+", ms=8.6, mew=0.7, color=color, alpha=alpha, zorder=2)


def step_panel(ax, black, black_lo, black_hi, red, red_lo, red_hi, black_pts, red_pts):
    ribbon(ax, black_lo, black_hi, "black")
    ribbon(ax, red_lo, red_hi, "red")
    crosses(ax, black_pts, "black", 0.33)
    crosses(ax, red_pts, "red", 0.33)
    step_line(ax, black, "black")
    step_line(ax, red, "red")


def y_label(row, col, text):
    x = col_left[col] - 72
    y = row_top[row] + PH / 2
    fig.text(x / W, 1 - y / H, text, rotation=90, ha="center", va="center",
             fontsize=17, linespacing=1.0, multialignment="center")


def letter(row, col, text):
    x = col_left[col] - 102
    y = 88 if row == 0 else 529
    fig.text(x / W, 1 - y / H, text, fontsize=16, fontweight="bold", va="baseline", ha="center")


# ---------------- A
axA = main_axes(0, 0, (1, 630), [1, 10, 100], ["1", "10", "100"])
step_panel(axA, A_black, A_black_lo, A_black_hi, A_red, A_red_lo, A_red_hi, A_black_pts, A_red_pts)
timescale(0, 0)
y_label(0, 0, "SQS richness\n(quorum = 0.9)")
letter(0, 0, "A")

# ---------------- B
axB = main_axes(0, 1, (0.0115, 1.08), [0.03, 0.1, 0.3, 1.0], ["0.03", "0.10", "0.30", "1.00"], logt=False)
step_panel(axB, B_black, B_black_lo, B_black_hi, B_red, B_red_lo, B_red_hi, B_black_pts, B_red_pts)
timescale(0, 1)
y_label(0, 1, "Berger-Parker\ndominance index")
letter(0, 1, "B")

# ---------------- C
axC = main_axes(0, 2, (1, 74), [1, 3, 10, 30], ["1", "3", "10", "30"])
axC.plot(C_black_t, C_black_v, color="black", lw=1.6, zorder=4)
axC.plot(C_red_t, C_red_v, color="red", lw=1.6, zorder=4)
timescale(0, 2)
y_label(0, 2, "No. equal-area\ngrid cells")
letter(0, 2, "C")

# ---------------- D, E, F
fauna = [
    ("D", "Cambrian Fauna", D_black, D_black_lo, D_black_hi, D_red, D_red_lo, D_red_hi, D_black_pts, D_red_pts),
    ("E", "Paleozoic Fauna", E_black, E_black_lo, E_black_hi, E_red, E_red_lo, E_red_hi, E_black_pts, E_red_pts),
    ("F", "Modern Fauna", F_black, F_black_lo, F_black_hi, F_red, F_red_lo, F_red_hi, F_black_pts, F_red_pts),
]
for col, (let, title, *series) in enumerate(fauna):
    ax = main_axes(1, col, (1, 415), [1, 10, 100], ["1", "10", "100"])
    step_panel(ax, *series)
    timescale(1, col)
    y_label(1, col, "SQS richness\n(quorum = 0.9)")
    letter(1, col, let)
    fig.text(col_left[col] / W, 1 - 519 / H, title, fontsize=20.5, ha="left", va="center")

# ---------------- legend
handles = [
    (Patch(facecolor="black", alpha=0.2, lw=0),
     Line2D([], [], ls="none", marker="+", ms=16, mew=0.8, color="black", alpha=0.2),
     Line2D([], [], color="black", lw=3.4)),
    (Patch(facecolor="red", alpha=0.2, lw=0),
     Line2D([], [], ls="none", marker="+", ms=16, mew=0.8, color="red", alpha=0.2),
     Line2D([], [], color="red", lw=3.4)),
]
fig.legend(handles, ["Not reef-supporting", "Reef-supporting"], handler_map={tuple: HandlerTuple()},
           loc="center left", bbox_to_anchor=(566.7 / W, 1 - 23.5 / H), ncol=2, frameon=False,
           fontsize=13.5, handlelength=1.92, handleheight=1.76, handletextpad=0.75,
           columnspacing=1.15, borderpad=0, borderaxespad=0)
fig.text(553 / W, 1 - 23.5 / H, "Environment", ha="right", va="center", fontsize=17)

fig.savefig("out.png", dpi=100)
